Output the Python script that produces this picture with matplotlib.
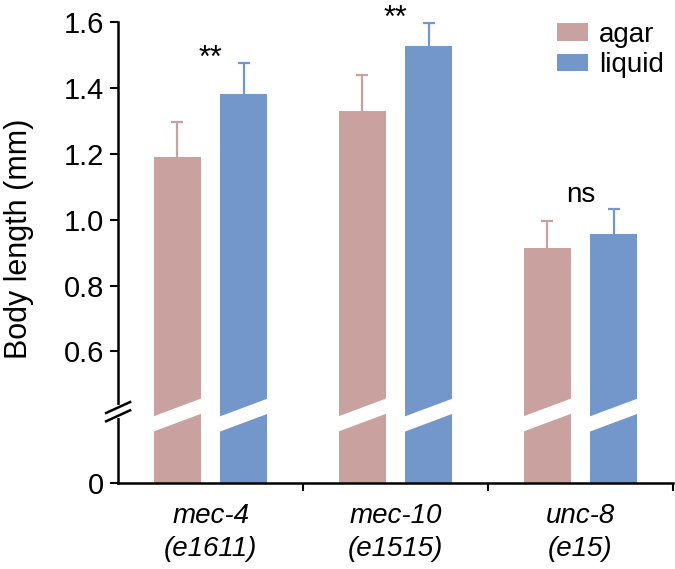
import numpy as np
import matplotlib
matplotlib.use("Agg")
import matplotlib.pyplot as plt
from matplotlib.patches import Polygon
from matplotlib.transforms import blended_transform_factory

plt.rcParams['font.family'] = ['Liberation Sans', 'DejaVu Sans']

# data
strains = ["mec-4\n(e1611)", "mec-10\n(e1515)", "unc-8\n(e15)"]
agar = [1.192, 1.330, 0.914]
agar_err = [0.105, 0.111, 0.081]
liquid = [1.382, 1.528, 0.957]
liquid_err = [0.095, 0.071, 0.075]
signif = ["**", "**", "ns"]
yticks = [0, 0.6, 0.8, 1.0, 1.2, 1.4, 1.6]

c_agar = "#c9a19f"
c_liquid = "#7497cb"

# broken axis: 0-0.6 squeezed into the height of 0.4
def fwd(v):
    v = np.asarray(v, dtype=float)
    return np.where(v <= 0.6, v * 0.4 / 0.6, v - 0.2)

def inv(p):
    p = np.asarray(p, dtype=float)
    return np.where(p <= 0.4, p * 0.6 / 0.4, p + 0.2)

fig = plt.figure(figsize=(6.75, 5.69), dpi=100)
ax = fig.add_axes([0.175, 0.151, 0.822, 0.810])
ax.set_yscale('function', functions=(fwd, inv))

x = np.arange(len(strains))
w = 0.255
off = 0.18
ax.bar(x - off, agar, w, color=c_agar, label="agar", zorder=2)
ax.bar(x + off, liquid, w, color=c_liquid, label="liquid", zorder=2)
# error bars behind the bars so only the upper half shows
ax.errorbar(x - off, agar, yerr=agar_err, fmt='none',
            ecolor=c_agar, elinewidth=1.6, capsize=4, capthick=1.6, zorder=1)
ax.errorbar(x + off, liquid, yerr=liquid_err, fmt='none',
            ecolor=c_liquid, elinewidth=1.6, capsize=4, capthick=1.6, zorder=1)

# white diagonal band through each bar
bt = blended_transform_factory(ax.transData, ax.transAxes)
yc, slope, hh = 0.1476, 0.0412, 0.0165
for xc in np.concatenate([x - off, x + off]):
    l, r = xc - w / 2 - 0.01, xc + w / 2 + 0.01
    ax.add_patch(Polygon([(l, yc - slope / 2 - hh), (r, yc + slope / 2 - hh),
                          (r, yc + slope / 2 + hh), (l, yc - slope / 2 + hh)],
                         closed=True, facecolor='white', edgecolor='none',
                         transform=bt, zorder=3))

# significance labels
for i, s in enumerate(signif):
    top = max(agar[i] + agar_err[i], liquid[i] + liquid_err[i])
    if s == "**":
        ax.annotate(s, (x[i], top), xytext=(0, -3), textcoords='offset points',
                    ha='center', va='baseline', fontsize=22,
                    annotation_clip=False)
    else:
        ax.annotate(s, (x[i], top), xytext=(0, 1), textcoords='offset points',
                    ha='center', va='bottom', fontsize=20,
                    annotation_clip=False)

ax.set_xlim(-0.5, 2.5)
ax.set_ylim(0, 1.6)
ax.set_yticks(yticks)
ax.set_yticklabels(["0", "0.6", "0.8", "1.0", "1.2", "1.4", "1.6"], fontsize=21)
ax.set_xticks(x)
ax.set_xticklabels(strains, fontsize=20, style='italic', linespacing=1.35)
ax.set_xticks([0.5, 1.5, 2.5], minor=True)
ax.tick_params(axis='x', which='major', length=0, pad=14)
ax.tick_params(axis='x', which='minor', length=6, width=1.5)
ax.tick_params(axis='y', length=6, width=1.5, pad=4)
for s in ['top', 'right']:
    ax.spines[s].set_visible(False)
for s in ['left', 'bottom']:
    ax.spines[s].set_linewidth(1.8)

fig.text(0.028, 1 - 239 / 569, "Body length (mm)", rotation=90,
         ha='center', va='center', fontsize=22)

# break mark on the y axis
ax.plot([0, 0], [0.145, 0.165], color='white', lw=3, transform=ax.transAxes,
        clip_on=False, zorder=5)
bx, by = 0.0216, 0.0119
for yy in (0.146, 0.164):
    ax.plot([-bx, bx], [yy - by, yy + by], color='black', lw=1.8,
            transform=ax.transAxes, clip_on=False, zorder=6)

ax.legend(loc='upper left', bbox_to_anchor=(557 / 675, 1 - 22 / 569),
          bbox_transform=fig.transFigure, frameon=False, fontsize=20,
          handlelength=1.1, handleheight=0.6, handletextpad=0.4,
          labelspacing=0.15, borderpad=0, borderaxespad=0)

fig.savefig("out.png", dpi=100)
